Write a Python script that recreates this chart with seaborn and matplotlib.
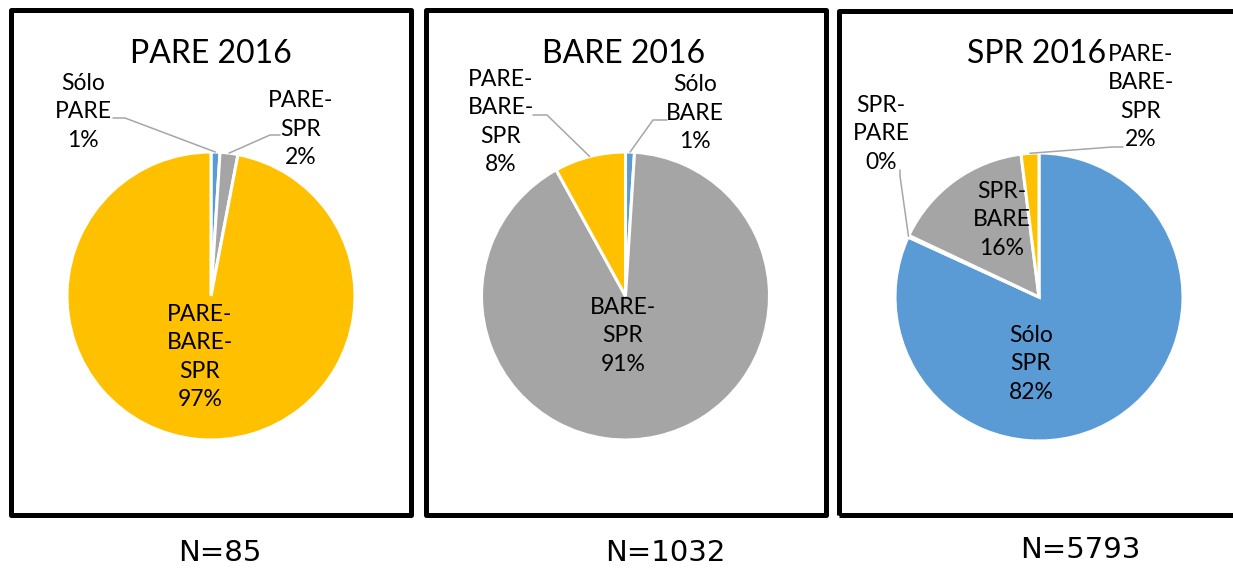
import matplotlib
matplotlib.use("Agg")
import matplotlib.pyplot as plt
from matplotlib.patches import Rectangle
import numpy as np
import seaborn as sns

sns.set_theme(style="white")
plt.rcParams["font.family"] = ["Lato", "DejaVu Sans"]

# datos
titles = ["PARE 2016", "BARE 2016", "SPR 2016"]
n_labels = ["N=85", "N=1032", "N=5793"]

pare_labels = ["Sólo\nPARE", "PARE-\nSPR", "PARE-\nBARE-\nSPR"]
pare_values = [1, 2, 97]

bare_labels = ["Sólo\nBARE", "BARE-\nSPR", "PARE-\nBARE-\nSPR"]
bare_values = [1, 91, 8]

spr_labels = ["Sólo\nSPR", "SPR-\nPARE", "SPR-\nBARE", "PARE-\nBARE-\nSPR"]
spr_values = [82, 0.2, 16, 2]

BLUE, ORANGE, GREY, YELLOW = "#5B9BD5", "#ED7D31", "#A5A5A5", "#FFC000"
pare_colors = [BLUE, GREY, YELLOW]
bare_colors = [BLUE, GREY, YELLOW]
spr_colors = [BLUE, ORANGE, GREY, YELLOW]

W, H = 1233, 573
R = 144


def P(x, y):
    # pixel (y hacia abajo) -> coordenadas del eje
    return (x, H - y)


# layout de cada panel (en pixeles)
panels = [
    dict(labels=pare_labels, values=pare_values, colors=pare_colors,
         box=(10.5, 9.5, 410.5, 514.5), center=(211, 296), title=(211, 54),
         n=(220, 553),
         text=[(83, 112), (301, 129), (200, 357)],
         leader=[((113, 118), (125, 118)), ((280, 135), (270, 135)), None]),
    dict(labels=bare_labels, values=bare_values, colors=bare_colors,
         box=(425.5, 9.5, 825.5, 514.5), center=(625.5, 296), title=(624, 54),
         n=(665, 553),
         text=[(695, 113), (623, 336), (501, 122)],
         leader=[((667, 120), (653, 120)), None, ((533, 115), (547, 115))]),
    dict(labels=spr_labels, values=spr_values, colors=spr_colors,
         box=(838.5, 11, 1245, 514.5), center=(1039, 297), title=(1037, 54),
         n=(1080, 550),
         text=[(1031, 364), (881, 134), (1002, 220), (1141, 97)],
         leader=[None, ((900, 170), (900, 176)), None, ((1123, 147), (1112, 147))]),
]

fig = plt.figure(figsize=(W / 100, H / 100), dpi=100)
ax = fig.add_axes([0, 0, 1, 1])

for i, p in enumerate(panels):
    c = P(*p["center"])
    wedges, _ = ax.pie(p["values"], colors=p["colors"], center=c, radius=R,
                       startangle=90, counterclock=False,
                       wedgeprops=dict(edgecolor="white", linewidth=2.2))
    for w, lab, v, tpos, ld in zip(wedges, p["labels"], p["values"], p["text"], p["leader"]):
        ax.text(*P(*tpos), f"{lab}\n{v:.0f}%", ha="center", va="center",
                fontsize=16.5, linespacing=1.42, color="#000000", zorder=5)
        if ld is not None:
            ang = np.deg2rad((w.theta1 + w.theta2) / 2)
            end = (c[0] + R * np.cos(ang), c[1] + R * np.sin(ang))
            s, e = P(*ld[0]), P(*ld[1])
            ax.plot([s[0], e[0], end[0]], [s[1], e[1], end[1]],
                    color="#A6A6A6", lw=1.1, zorder=4)

    L, T, Rr, B = p["box"]
    ax.add_patch(Rectangle(P(L, B), Rr - L, B - T, fill=False, ec="black",
                           lw=3.6, joinstyle="round", zorder=6))
    ax.text(*P(*p["title"]), titles[i], ha="center", va="center",
            fontsize=23, color="black")
    ax.text(*P(*p["n"]), n_labels[i], ha="center", va="center",
            fontsize=21, family="DejaVu Sans", color="black")

ax.set_xlim(0, W)
ax.set_ylim(0, H)
ax.set_aspect("auto")
ax.axis("off")

fig.savefig("out.png", dpi=100)
